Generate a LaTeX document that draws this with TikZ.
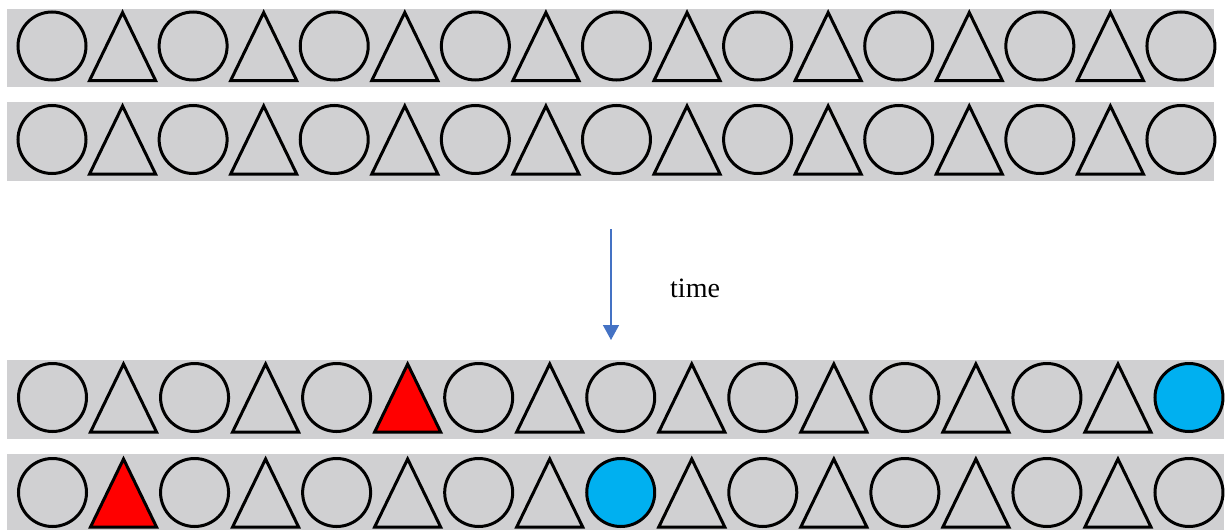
\documentclass[tikz,border=0pt]{standalone}
\usepackage{fontspec}
\setmainfont{Liberation Serif}
\usetikzlibrary{arrows.meta}
\definecolor{bandgray}{RGB}{208,208,210}
\definecolor{arrowblue}{RGB}{68,114,196}
\definecolor{cyanfill}{RGB}{0,176,240}
\tikzset{
  bandfill/.style={fill=bandgray, draw=none},
  shapeline/.style={draw=black, line width=3pt, line join=miter},
  timearrow/.style={draw=arrowblue, line width=1.5pt, -{Triangle[width=16pt,length=15pt]}},
  timelabel/.style={font=\fontsize{28}{32}\selectfont, inner sep=0pt, anchor=base west}
}
% #1 band top, #2 band bottom, #3 band right, #4 centre y, #5 first x, #6 pitch, #7 red index, #8 blue index
\newcommand\shaperow[8]{%
  \fill[bandfill] (7,#1) rectangle (#3,#2);
  \foreach \i in {0,...,16}{%
    \pgfmathsetmacro\cx{#5+\i*#6}%
    \def\fc{bandgray}%
    \ifnum\i=#7 \def\fc{red}\fi
    \ifnum\i=#8 \def\fc{cyanfill}\fi
    \ifodd\i
      \draw[shapeline, fill=\fc] (\cx-33,#4+34.5) -- (\cx,#4-33.5) -- (\cx+33,#4+34.5) -- cycle;
    \else
      \draw[shapeline, fill=\fc] (\cx,#4) circle[radius=34pt];
    \fi
  }%
}
\begin{document}
\begin{tikzpicture}[x=1pt, y=-1pt]
  \useasboundingbox (0,0) rectangle (1229,530);
  \shaperow{9}{87}{1214}{46}{52}{70.56}{-1}{-1}
  \shaperow{102}{181}{1214}{139.5}{52}{70.56}{-1}{-1}
  \shaperow{360}{439}{1224}{397.5}{52.5}{71.03}{5}{16}
  \shaperow{454}{531}{1224}{492.5}{52.5}{71.03}{1}{8}
  \coordinate (arrtop) at (611,229);
  \coordinate (arrtip) at (611,340);
  \draw[timearrow] (arrtop) -- (arrtip);
  \node[timelabel] (timetext) at (670,297) {time};
\end{tikzpicture}
\end{document}
